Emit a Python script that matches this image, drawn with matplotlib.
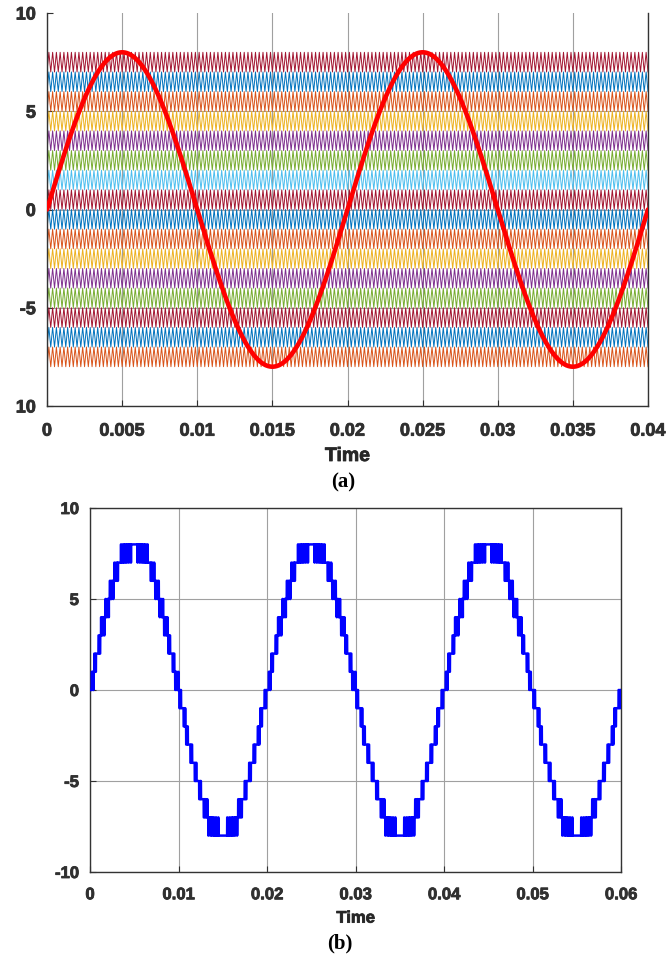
import numpy as np
import matplotlib.pyplot as plt
import matplotlib.patheffects as pe

# reference sine
ref_amp = 8
ref_amp_b = 8.03          # panel (b) flat top => reference just above the top carrier
ref_freq = 50             # Hz
carrier_freq = 4000       # Hz

# lower edge of each carrier band, bottom to top, with its colour
carrier_levels = [-8, -7, -6, -5, -4, -3, -2, -1, 0, 1, 2, 3, 4, 5, 6, 7]
carrier_colors = ["#D95319", "#0072BD", "#A2142F", "#77AC30", "#7E2F8E",
                  "#EDB120", "#D95319", "#0072BD", "#A2142F", "#4DBEEE",
                  "#77AC30", "#7E2F8E", "#EDB120", "#D95319", "#0072BD",
                  "#A2142F"]

xticks_a = [0, 0.005, 0.01, 0.015, 0.02, 0.025, 0.03, 0.035, 0.04]
xlabels_a = ["0", "0.005", "0.01", "0.015", "0.02", "0.025", "0.03", "0.035", "0.04"]
yticks_a = [-10, -5, 0, 5, 10]
ylabels_a = ["10", "-5", "0", "5", "10"]
xticks_b = [0, 0.01, 0.02, 0.03, 0.04, 0.05, 0.06]
xlabels_b = ["0", "0.01", "0.02", "0.03", "0.04", "0.05", "0.06"]
yticks_b = [-10, -5, 0, 5, 10]
ylabels_b = ["-10", "-5", "0", "5", "10"]

plt.rcParams["font.family"] = ["Liberation Sans", "DejaVu Sans"]
W, H = 670, 955
fig = plt.figure(figsize=(W / 100, H / 100), dpi=100)
txt = "#303030"
heavy = [pe.withStroke(linewidth=0.6, foreground=txt)]


def triangle(t):
    """unit triangle carrier, 0..1"""
    ph = (t * carrier_freq) % 1.0
    return 1 - 2 * np.abs(ph - 0.5)


def style(ax, xt, xl, yt, yl, fs, xpad):
    ax.set_xticks(xt)
    ax.set_xticklabels(xl)
    ax.set_yticks(yt)
    ax.set_yticklabels(yl)
    ax.tick_params(labelsize=fs, colors=txt, direction="in", length=4,
                   width=0.8, pad=8)
    ax.tick_params(axis="x", pad=xpad)
    for lab in ax.get_xticklabels() + ax.get_yticklabels():
        lab.set_fontweight("bold")
        lab.set_path_effects(heavy)
    ax.grid(True, color="#a0a0a0", lw=0.8)
    ax.set_axisbelow(True)
    for s in ax.spines.values():
        s.set_color("#333333")
        s.set_linewidth(1.0)


# ---- panel (a): carriers + reference
ax1 = fig.add_axes([47 / W, 1 - 406 / H, 601 / W, 393 / H])
t_v = np.arange(0, 0.04 + 1e-12, 1 / (2 * carrier_freq))
for lvl, col in zip(carrier_levels, carrier_colors):
    ax1.plot(t_v, lvl + triangle(t_v), color=col, lw=0.7, zorder=2)
t_a = np.linspace(0, 0.04, 2000)
ax1.plot(t_a, ref_amp * np.sin(2 * np.pi * ref_freq * t_a), color="#FF0000",
         lw=3.3, zorder=3, solid_capstyle="round")
ax1.set_xlim(0, 0.04)
ax1.set_ylim(-10, 10)
style(ax1, xticks_a, xlabels_a, yticks_a, ylabels_a, 13, 12)
ax1.spines["top"].set_visible(False)
ax1.yaxis.get_gridlines()[-1].set_visible(False)
ax1.set_xlabel("Time", fontsize=14, fontweight="bold", color="#262626",
               labelpad=6, path_effects=heavy)

# ---- panel (b): phase-disposition PWM output
ax2 = fig.add_axes([90 / W, 1 - 872 / H, 531 / W, 364 / H])
t_b = np.linspace(0, 0.06, 240001)
ref_b = ref_amp_b * np.sin(2 * np.pi * ref_freq * t_b)
tri_b = triangle(t_b)
out = np.zeros_like(t_b)
for lvl in carrier_levels:
    out += ref_b > (lvl + tri_b)
out -= len(carrier_levels) / 2
ax2.plot(t_b, out, color="#0000FF", lw=1.8, zorder=3)
ax2.set_xlim(0, 0.06)
ax2.set_ylim(-10, 10)
style(ax2, xticks_b, xlabels_b, yticks_b, ylabels_b, 12, 11)
ax2.set_xlabel("Time", fontsize=12, fontweight="bold", color="#262626",
               labelpad=6, path_effects=heavy)

fig.text(343 / W, 1 - 482 / H, "(a)", ha="center", va="center", fontsize=15,
         fontweight="bold", family="Liberation Serif")
fig.text(340 / W, 1 - 943 / H, "(b)", ha="center", va="center", fontsize=15,
         fontweight="bold", family="Liberation Serif")

fig.savefig("out.png", dpi=100)
